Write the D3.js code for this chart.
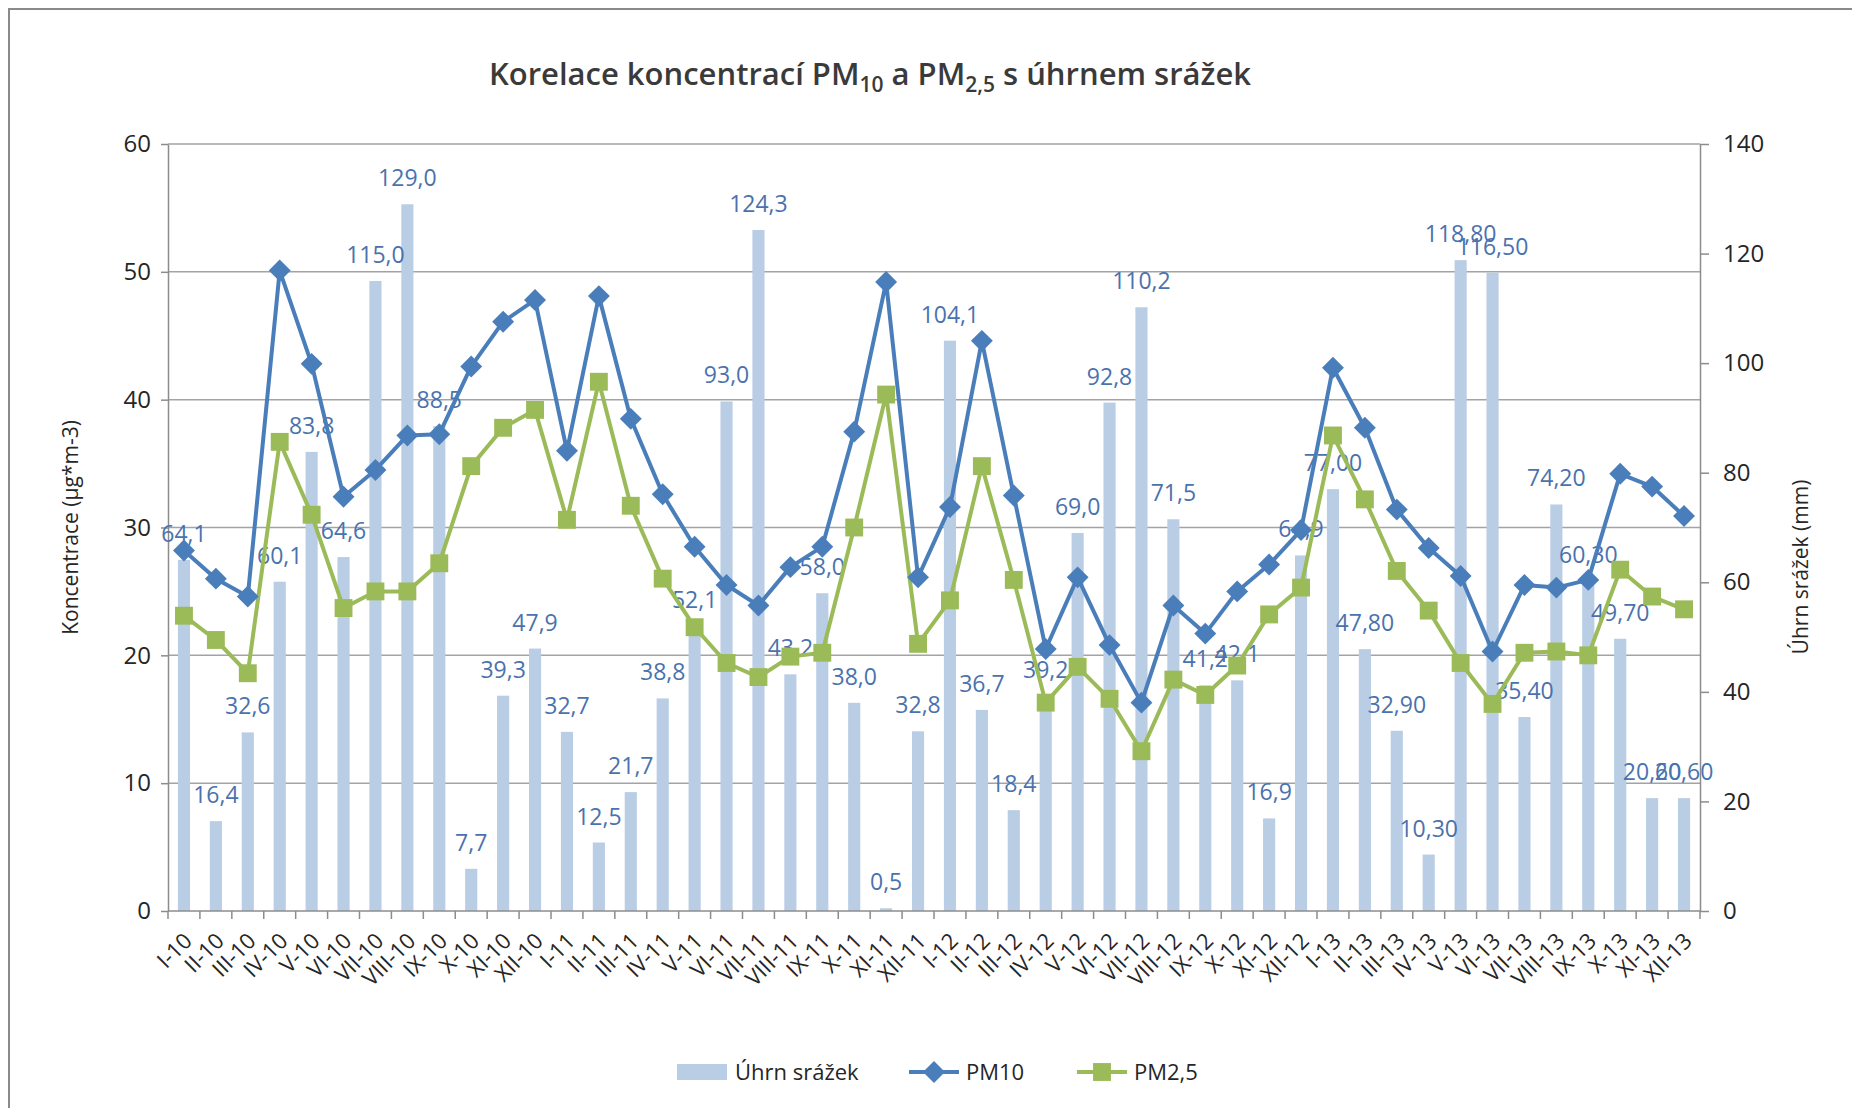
<!DOCTYPE html>
<html>
<head>
<meta charset="utf-8">
<script src="https://cdn.jsdelivr.net/npm/d3@7"></script>
<style>
  body { margin: 0; background: #fff; }
  text { font-family: "Open Sans", sans-serif; }
</style>
</head>
<body>
<svg id="chart" width="1852" height="1108"></svg>
<script>
const categories = [
  "I-10","II-10","III-10","IV-10","V-10","VI-10","VII-10","VIII-10","IX-10","X-10","XI-10","XII-10",
  "I-11","II-11","III-11","IV-11","V-11","VI-11","VII-11","VIII-11","IX-11","X-11","XI-11","XII-11",
  "I-12","II-12","III-12","IV-12","V-12","VI-12","VII-12","VIII-12","IX-12","X-12","XI-12","XII-12",
  "I-13","II-13","III-13","IV-13","V-13","VI-13","VII-13","VIII-13","IX-13","X-13","XI-13","XII-13"
];

// Úhrn srážek (mm), right axis
const rainfall = [
  64.1, 16.4, 32.6, 60.1, 83.8, 64.6, 115.0, 129.0, 88.5, 7.7, 39.3, 47.9,
  32.7, 12.5, 21.7, 38.8, 52.1, 93.0, 124.3, 43.2, 58.0, 38.0, 0.5, 32.8,
  104.1, 36.7, 18.4, 39.2, 69.0, 92.8, 110.2, 71.5, 41.2, 42.1, 16.9, 64.9,
  77.00, 47.80, 32.90, 10.30, 118.80, 116.50, 35.40, 74.20, 60.30, 49.70, 20.60, 20.60
];
// decimals shown in the data labels
const rainDecimals = [
  1,1,1,1,1,1,1,1,1,1,1,1, 1,1,1,1,1,1,1,1,1,1,1,1,
  1,1,1,1,1,1,1,1,1,1,1,1, 2,2,2,2,2,2,2,2,2,2,2,2
];

// PM10 (µg/m3), left axis
const pm10 = [
  28.2, 26.0, 24.6, 50.1, 42.8, 32.4, 34.5, 37.2, 37.3, 42.6, 46.1, 47.8,
  36.0, 48.1, 38.5, 32.6, 28.5, 25.5, 23.9, 26.9, 28.5, 37.5, 49.2, 26.1,
  31.6, 44.6, 32.5, 20.5, 26.1, 20.8, 16.3, 23.9, 21.7, 25.0, 27.1, 29.8,
  42.5, 37.8, 31.4, 28.4, 26.2, 20.3, 25.5, 25.3, 25.9, 34.2, 33.2, 30.9
];

// PM2,5 (µg/m3), left axis
const pm25 = [
  23.1, 21.2, 18.6, 36.7, 31.0, 23.7, 25.0, 25.0, 27.2, 34.8, 37.8, 39.2,
  30.6, 41.4, 31.7, 26.0, 22.2, 19.4, 18.3, 19.9, 20.2, 30.0, 40.4, 20.9,
  24.3, 34.8, 25.9, 16.3, 19.1, 16.6, 12.5, 18.1, 16.9, 19.2, 23.2, 25.3,
  37.2, 32.2, 26.6, 23.5, 19.4, 16.2, 20.2, 20.3, 20.0, 26.7, 24.6, 23.6
];

const leftTicks = [0, 10, 20, 30, 40, 50, 60];
const rightTicks = [0, 20, 40, 60, 80, 100, 120, 140];

const colors = { rain: "#b9cde5", pm10: "#4a7ebb", pm25: "#9bbb59", label: "#4a72ad", axis: "#8c8c8c", text: "#262626" };

const svg = d3.select("#chart");
const plot = { left: 168, right: 1700, top: 144, bottom: 911 };

const x = d3.scaleBand().domain(categories).range([plot.left, plot.right]);
const yL = d3.scaleLinear().domain([0, 60]).range([plot.bottom, plot.top]);
const yR = d3.scaleLinear().domain([0, 140]).range([plot.bottom, plot.top]);
const cx = (i) => x(categories[i]) + x.bandwidth() / 2;

// outer chart border
svg.append("rect")
  .attr("x", 9).attr("y", 9).attr("width", 1900).attr("height", 1200)
  .attr("fill", "none").attr("stroke", "#8a8a8a").attr("stroke-width", 2);

// title
const title = svg.append("text")
  .attr("x", 870).attr("y", 85)
  .attr("text-anchor", "middle")
  .attr("font-size", 31).attr("font-weight", 600).attr("fill", "#3a3a3a");
title.append("tspan").text("Korelace koncentrací PM");
title.append("tspan").attr("font-size", 21).attr("dy", 7).text("10");
title.append("tspan").attr("dy", -7).text(" a PM");
title.append("tspan").attr("font-size", 21).attr("dy", 7).text("2,5");
title.append("tspan").attr("dy", -7).text(" s úhrnem srážek");

// gridlines
svg.append("g").selectAll("line")
  .data(leftTicks.slice(1))
  .join("line")
  .attr("x1", plot.left).attr("x2", plot.right)
  .attr("y1", d => yL(d)).attr("y2", d => yL(d))
  .attr("stroke", "#a3a3a3").attr("stroke-width", 1.5);

// bars
const barW = x.bandwidth() * 0.38;
svg.append("g").selectAll("rect")
  .data(rainfall)
  .join("rect")
  .attr("x", (d, i) => cx(i) - barW / 2)
  .attr("width", barW)
  .attr("y", d => yR(d))
  .attr("height", d => plot.bottom - yR(d))
  .attr("fill", colors.rain);

// left axis
const axL = svg.append("g")
  .attr("transform", `translate(${plot.left},0)`)
  .call(d3.axisLeft(yL).tickValues(leftTicks).tickSize(7).tickPadding(10).tickSizeOuter(0));
// right axis
const axR = svg.append("g")
  .attr("transform", `translate(${plot.right},0)`)
  .call(d3.axisRight(yR).tickValues(rightTicks).tickSize(9).tickPadding(14).tickSizeOuter(0));
[axL, axR].forEach(ax => {
  ax.select(".domain").attr("stroke", colors.axis).attr("stroke-width", 1.5);
  ax.selectAll(".tick line").attr("stroke", colors.axis).attr("stroke-width", 1.5);
  ax.selectAll(".tick text").attr("font-size", 24).attr("fill", colors.text)
    .style("font-family", '"Open Sans", sans-serif');
});

// category axis
svg.append("line")
  .attr("x1", plot.left).attr("x2", plot.right)
  .attr("y1", plot.bottom).attr("y2", plot.bottom)
  .attr("stroke", colors.axis).attr("stroke-width", 1.5);
svg.append("g").selectAll("line")
  .data(categories.concat([null]))
  .join("line")
  .attr("x1", (d, i) => plot.left + i * x.step())
  .attr("x2", (d, i) => plot.left + i * x.step())
  .attr("y1", plot.bottom).attr("y2", plot.bottom + 8)
  .attr("stroke", colors.axis).attr("stroke-width", 1.5);
svg.append("g").selectAll("text")
  .data(categories)
  .join("text")
  .attr("transform", (d, i) => `translate(${cx(i) + 4},${plot.bottom + 26}) rotate(-45)`)
  .attr("text-anchor", "end")
  .attr("dy", "0.35em")
  .attr("font-size", 22).attr("fill", colors.text)
  .text(d => d);

// bar data labels
const fmt = (v, i) => v.toFixed(rainDecimals[i]).replace(".", ",");
svg.append("g").selectAll("text")
  .data(rainfall)
  .join("text")
  .attr("x", (d, i) => cx(i))
  .attr("y", d => yR(d) - 18)
  .attr("text-anchor", "middle")
  .attr("font-size", 23).attr("fill", colors.label)
  .text((d, i) => fmt(d, i));

// lines
const line = (yScale) => d3.line().x((d, i) => cx(i)).y(d => yScale(d));
svg.append("path").datum(pm10)
  .attr("d", line(yL)).attr("fill", "none")
  .attr("stroke", colors.pm10).attr("stroke-width", 4).attr("stroke-linejoin", "round");
svg.append("path").datum(pm25)
  .attr("d", line(yL)).attr("fill", "none")
  .attr("stroke", colors.pm25).attr("stroke-width", 4).attr("stroke-linejoin", "round");

const diamond = d3.symbol().type(d3.symbolSquare).size(240);
const square = d3.symbol().type(d3.symbolSquare).size(320);
svg.append("g").selectAll("path")
  .data(pm10)
  .join("path")
  .attr("d", diamond)
  .attr("transform", (d, i) => `translate(${cx(i)},${yL(d)}) rotate(45)`)
  .attr("fill", colors.pm10);
svg.append("g").selectAll("path")
  .data(pm25)
  .join("path")
  .attr("d", square)
  .attr("transform", (d, i) => `translate(${cx(i)},${yL(d)})`)
  .attr("fill", colors.pm25);

// axis titles
svg.append("text")
  .attr("transform", `translate(78,${(plot.top + plot.bottom) / 2}) rotate(-90)`)
  .attr("text-anchor", "middle")
  .attr("font-size", 21).attr("fill", colors.text)
  .text("Koncentrace (µg*m-3)");
svg.append("text")
  .attr("transform", `translate(1808,567) rotate(-90)`)
  .attr("text-anchor", "middle")
  .attr("font-size", 21).attr("fill", colors.text)
  .text("Úhrn srážek (mm)");

// legend
const legend = svg.append("g").attr("transform", "translate(0,1072)");
legend.append("rect").attr("x", 677).attr("y", -8).attr("width", 50).attr("height", 16).attr("fill", colors.rain);
legend.append("text").attr("x", 735).attr("dy", "0.35em").attr("font-size", 22).attr("fill", colors.text).text("Úhrn srážek");
legend.append("line").attr("x1", 909).attr("x2", 959).attr("stroke", colors.pm10).attr("stroke-width", 4);
legend.append("path").attr("d", diamond).attr("transform", "translate(934,0) rotate(45)").attr("fill", colors.pm10);
legend.append("text").attr("x", 966).attr("dy", "0.35em").attr("font-size", 22).attr("fill", colors.text).text("PM10");
legend.append("line").attr("x1", 1077).attr("x2", 1127).attr("stroke", colors.pm25).attr("stroke-width", 4);
legend.append("path").attr("d", square).attr("transform", "translate(1102,0)").attr("fill", colors.pm25);
legend.append("text").attr("x", 1134).attr("dy", "0.35em").attr("font-size", 22).attr("fill", colors.text).text("PM2,5");
</script>
</body>
</html>
